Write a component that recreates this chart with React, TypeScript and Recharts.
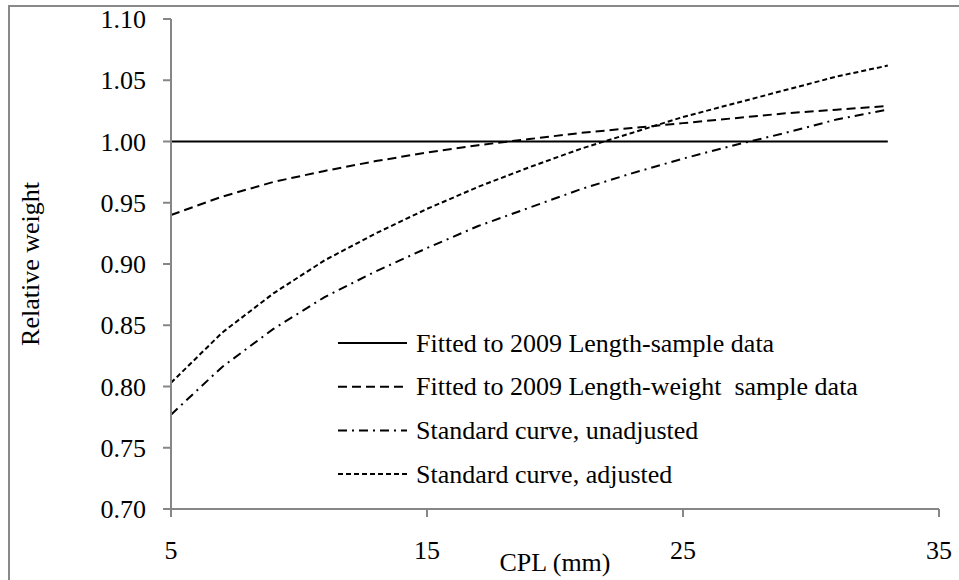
import React from 'react';
import { LineChart, Line, XAxis, YAxis, Legend, Label } from 'recharts';

// CPL (mm)
const cpl = [5, 7, 9, 11, 13, 15, 17, 19, 21, 23, 25, 27, 29, 31, 33];
// Fitted to 2009 Length-sample data
const fittedLength = [1, 1, 1, 1, 1, 1, 1, 1, 1, 1, 1, 1, 1, 1, 1];
// Fitted to 2009 Length-weight sample data
const fittedLengthWeight = [0.940, 0.955, 0.967, 0.976, 0.984, 0.991, 0.997, 1.002, 1.007, 1.011, 1.015, 1.019, 1.023, 1.026, 1.029];
// Standard curve, unadjusted
const standardUnadjusted = [0.777, 0.816, 0.847, 0.873, 0.894, 0.913, 0.931, 0.946, 0.961, 0.974, 0.986, 0.997, 1.007, 1.018, 1.026];
// Standard curve, adjusted
const standardAdjusted = [0.803, 0.844, 0.876, 0.903, 0.925, 0.945, 0.963, 0.979, 0.994, 1.007, 1.020, 1.031, 1.042, 1.053, 1.062];

const seriesNames = [
  'Fitted to 2009 Length-sample data',
  'Fitted to 2009 Length-weight  sample data',
  'Standard curve, unadjusted',
  'Standard curve, adjusted',
];
const xTicks = [5, 15, 25, 35];
const yTicks = [0.7, 0.75, 0.8, 0.85, 0.9, 0.95, 1.0, 1.05, 1.1];

const data = cpl.map((x, i) => ({
  cpl: x,
  s0: fittedLength[i],
  s1: fittedLengthWeight[i],
  s2: standardUnadjusted[i],
  s3: standardAdjusted[i],
}));

const FONT = '"Liberation Serif", "Times New Roman", serif';
const AXIS = '#868686';
const dashes = [undefined, '9 5', '9 5 2 5', '5 3'];

const renderLegend = () => (
  <svg width={380} height={180} style={{ overflow: 'visible' }}>
    {seriesNames.map((name, i) => {
      const y = 23 + i * 43.7;
      return (
        <g key={i}>
          <line x1={8} x2={77} y1={y} y2={y} stroke="#000" strokeWidth={2} strokeDasharray={dashes[i]} />
          <text
            x={86}
            y={y}
            dominantBaseline="central"
            fontFamily={FONT}
            fontSize={26}
            fill="#000"
            style={{ whiteSpace: 'pre' }}
          >
            {name}
          </text>
        </g>
      );
    })}
  </svg>
);

const YTitle = () => (
  <text
    x={30}
    y={264}
    transform="rotate(-90 30 264)"
    textAnchor="middle"
    dominantBaseline="central"
    fontFamily={FONT}
    fontSize={26}
    fill="#000"
  >
    Relative weight
  </text>
);

const XTitle = () => (
  <text x={555} y={571} textAnchor="middle" fontFamily={FONT} fontSize={26} fill="#000">
    CPL (mm)
  </text>
);

export default function App() {
  const tickStyle = { fontFamily: FONT, fontSize: 26, fill: '#000' };
  return (
    <div style={{ position: 'relative', width: 959, height: 580, overflow: 'hidden' }}>
      <style>{`body{margin:0;}`}</style>
      <LineChart
        width={959}
        height={580}
        data={data}
        margin={{ top: 19, right: 20, bottom: 9, left: 0 }}
      >
        <XAxis
          dataKey="cpl"
          type="number"
          domain={[5, 35]}
          ticks={xTicks}
          height={62}
          stroke={AXIS}
          strokeWidth={2}
          tickSize={8}
          tickMargin={24}
          tick={tickStyle}
          tickLine={{ stroke: AXIS, strokeWidth: 2 }}
          axisLine={{ stroke: AXIS, strokeWidth: 2 }}
        >
          <Label content={<XTitle />} />
        </XAxis>
        <YAxis
          type="number"
          domain={[0.7, 1.1]}
          ticks={yTicks}
          width={171}
          tickFormatter={(v: number) => v.toFixed(2)}
          stroke={AXIS}
          strokeWidth={2}
          tickSize={8}
          tickMargin={17}
          tick={tickStyle}
          tickLine={{ stroke: AXIS, strokeWidth: 2 }}
          axisLine={{ stroke: AXIS, strokeWidth: 2 }}
          allowDataOverflow
        >
          <Label content={<YTitle />} />
        </YAxis>
        <Legend
          layout="vertical"
          align="center"
          verticalAlign="middle"
          content={renderLegend}
          wrapperStyle={{ left: 330, top: 320, width: 380, height: 180 }}
        />
        <Line dataKey="s0" name={seriesNames[0]} stroke="#000" strokeWidth={2} dot={false} isAnimationActive={false} />
        <Line dataKey="s1" name={seriesNames[1]} stroke="#000" strokeWidth={2} strokeDasharray={dashes[1]} dot={false} isAnimationActive={false} />
        <Line dataKey="s2" name={seriesNames[2]} stroke="#000" strokeWidth={2} strokeDasharray={dashes[2]} dot={false} isAnimationActive={false} />
        <Line dataKey="s3" name={seriesNames[3]} stroke="#000" strokeWidth={2} strokeDasharray={dashes[3]} dot={false} isAnimationActive={false} />
      </LineChart>
      <div
        style={{
          position: 'absolute',
          left: 8,
          top: 5,
          width: 960,
          height: 600,
          border: '2px solid #898989',
          pointerEvents: 'none',
        }}
      />
    </div>
  );
}
